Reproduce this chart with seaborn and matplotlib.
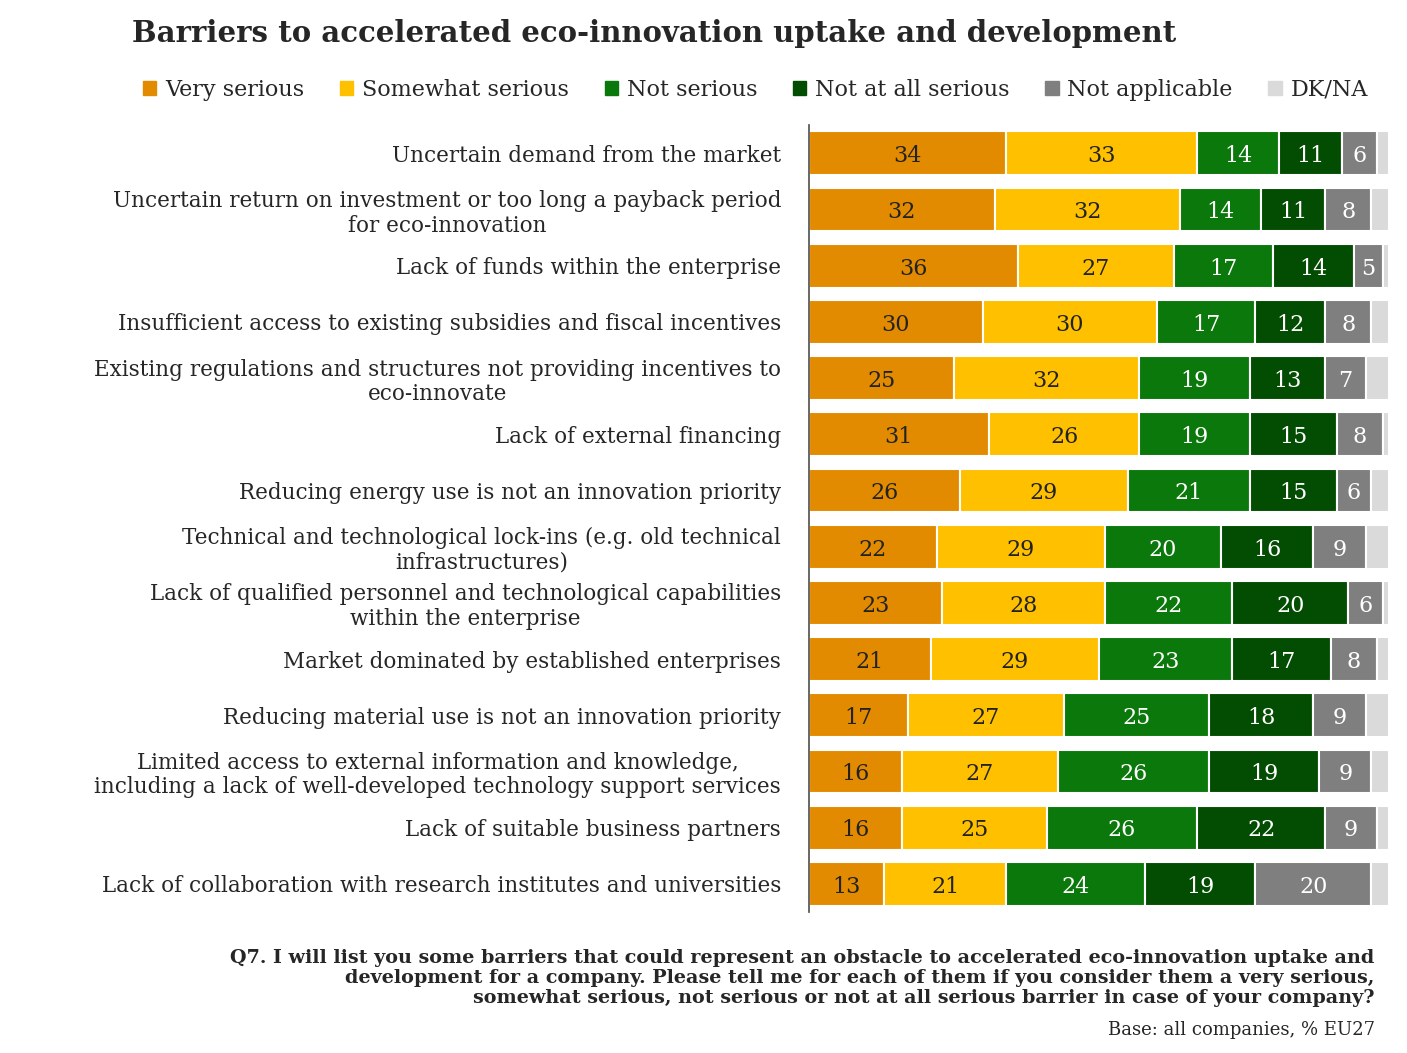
import matplotlib
matplotlib.use("Agg")
import matplotlib.pyplot as plt
import seaborn as sns
import numpy as np
import pandas as pd

categories = [
    "Uncertain demand from the market",
    "Uncertain return on investment or too long a payback period\nfor eco-innovation",
    "Lack of funds within the enterprise",
    "Insufficient access to existing subsidies and fiscal incentives",
    "Existing regulations and structures not providing incentives to\neco-innovate",
    "Lack of external financing",
    "Reducing energy use is not an innovation priority",
    "Technical and technological lock-ins (e.g. old technical\ninfrastructures)",
    "Lack of qualified personnel and technological capabilities\nwithin the enterprise",
    "Market dominated by established enterprises",
    "Reducing material use is not an innovation priority",
    "Limited access to external information and knowledge,\nincluding a lack of well-developed technology support services",
    "Lack of suitable business partners",
    "Lack of collaboration with research institutes and universities",
]
very_serious = [34, 32, 36, 30, 25, 31, 26, 22, 23, 21, 17, 16, 16, 13]
somewhat_serious = [33, 32, 27, 30, 32, 26, 29, 29, 28, 29, 27, 27, 25, 21]
not_serious = [14, 14, 17, 17, 19, 19, 21, 20, 22, 23, 25, 26, 26, 24]
not_at_all = [11, 11, 14, 12, 13, 15, 15, 16, 20, 17, 18, 19, 22, 19]
not_applicable = [6, 8, 5, 8, 7, 8, 6, 9, 6, 8, 9, 9, 9, 20]
dk_na = [2, 3, 1, 3, 4, 1, 3, 4, 1, 2, 4, 3, 2, 3]

series_names = ["Very serious", "Somewhat serious", "Not serious", "Not at all serious", "Not applicable", "DK/NA"]
series = [very_serious, somewhat_serious, not_serious, not_at_all, not_applicable, dk_na]
colors = ["#E38B00", "#FFC000", "#0A780A", "#034D03", "#7F7F7F", "#DADADA"]
txtcol = ["#222222", "#222222", "white", "white", "white", None]

serif = ["DejaVu Serif", "Liberation Serif"]
sns.set_theme(style="white")
plt.rcParams["font.family"] = serif

fig = plt.figure(figsize=(14.07, 10.53), dpi=100)
ax = fig.add_axes([0.575, 0.134, 0.412, 0.747])

left = np.zeros(len(categories))
for name, vals, col, tc in zip(series_names, series, colors, txtcol):
    df = pd.DataFrame({"cat": categories, "val": vals})
    sns.barplot(data=df, y="cat", x="val", orient="h", color=col, left=left,
                width=0.78, ax=ax, label=name, saturation=1, edgecolor="white", linewidth=1.5)
    if tc:
        for i, v in enumerate(vals):
            ax.text(left[i] + v / 2, i + 0.05, str(v), ha="center", va="center",
                    color=tc, fontsize=16)
    left = left + np.array(vals)

ax.set_xlim(0, 100)
ax.set_ylim(len(categories) - 0.5, -0.5)
ax.set_xlabel("")
ax.set_ylabel("")
ax.set_xticks([])
ax.set_yticks(np.arange(len(categories)))
ax.set_yticklabels(categories, fontsize=15.5, linespacing=1.15, multialignment="center")
ax.tick_params(axis="y", length=0, pad=20)
ax.set_yticks(np.arange(-0.5, len(categories)), minor=True)
ax.tick_params(axis="y", which="minor", length=7, color="#555555", width=1)
for s in ["top", "right", "bottom"]:
    ax.spines[s].set_visible(False)
ax.spines["left"].set_color("#555555")
ax.legend().remove()

handles = [plt.Rectangle((0, 0), 1, 1, color=c) for c in colors]
fig.legend(handles, series_names, loc="center", bbox_to_anchor=(0.537, 0.915), ncol=6,
           frameon=False, fontsize=16, handlelength=0.6, handleheight=0.6,
           handletextpad=0.4, columnspacing=1.6)

fig.text(0.094, 0.968, "Barriers to accelerated eco-innovation uptake and development",
         ha="left", va="center", fontsize=21, fontweight="bold")
fig.text(0.977, 0.071,
         "Q7. I will list you some barriers that could represent an obstacle to accelerated eco-innovation uptake and\n"
         "development for a company. Please tell me for each of them if you consider them a very serious,\n"
         "somewhat serious, not serious or not at all serious barrier in case of your company?",
         ha="right", va="center", fontsize=13.8, fontweight="bold", linespacing=1.15)
fig.text(0.977, 0.022, "Base: all companies, % EU27", ha="right", va="center", fontsize=13)

fig.savefig("out.png", dpi=100)
